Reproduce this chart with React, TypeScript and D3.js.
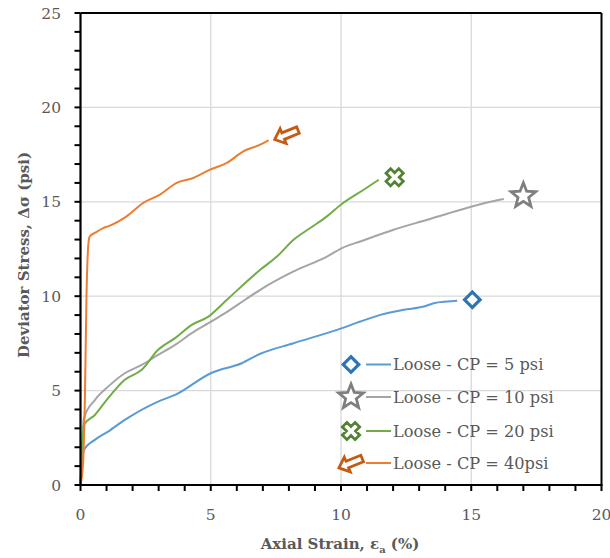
import React from "react";
import * as d3 from "d3";

// Triaxial test results: deviator stress vs axial strain, loose specimens
const strainCP5 = [0, 0.13, 0.55, 1.06, 1.7, 2.98, 3.63, 5, 6.19, 6.9, 8.18, 10.04, 10.74, 11.51, 12.41, 13.18, 13.56, 14.08, 14.46];
const stressCP5 = [0, 1.86, 2.39, 2.83, 3.45, 4.42, 4.77, 5.92, 6.45, 6.95, 7.51, 8.31, 8.66, 9.01, 9.28, 9.45, 9.63, 9.72, 9.76];

const strainCP10 = [0, 0.13, 0.55, 1.06, 1.7, 2.35, 2.98, 3.63, 4.27, 4.91, 5.55, 6.32, 6.9, 8.18, 9.46, 10.04, 10.74, 12.02, 13.31, 14.59, 15.74, 16.25];
const stressCP10 = [0, 3.53, 4.5, 5.21, 5.92, 6.36, 6.89, 7.42, 8.04, 8.57, 9.1, 9.81, 10.34, 11.31, 12.1, 12.55, 12.9, 13.52, 14.05, 14.58, 15.0, 15.15];

const strainCP20 = [0, 0.13, 0.55, 1.06, 1.7, 2.35, 2.98, 3.63, 4.27, 4.91, 5.62, 6.9, 7.54, 8.18, 8.82, 9.46, 10.04, 10.87, 11.45];
const stressCP20 = [0, 3.18, 3.71, 4.6, 5.57, 6.1, 7.16, 7.78, 8.48, 8.92, 9.81, 11.4, 12.1, 12.99, 13.61, 14.23, 14.9, 15.64, 16.17];

const strainCP40 = [0, 0.1, 0.17, 0.23, 0.32, 0.36, 0.55, 0.87, 1.06, 1.77, 2.41, 3.05, 3.69, 4.33, 4.97, 5.62, 6.25, 6.9, 7.22];
const stressCP40 = [0, 1.2, 4.7, 10, 12.99, 13.17, 13.35, 13.61, 13.7, 14.23, 14.94, 15.38, 16.0, 16.26, 16.7, 17.06, 17.67, 18.03, 18.26];

// Failure markers placed just past the end of each curve
const markerStrain = [15.04, 17.0, 12.06, 7.92];
const markerStress = [9.81, 15.32, 16.3, 18.56];

const seriesLabels = ["Loose - CP = 5 psi", "Loose - CP = 10 psi", "Loose - CP = 20 psi", "Loose - CP = 40psi"];
const lineColors = ["#5B9BD5", "#A5A5A5", "#70AD47", "#ED7D31"];
const markerColors = ["#2E75B6", "#7F7F7F", "#548235", "#C55A11"];

const xTicks = [0, 5, 10, 15, 20];
const yTicks = [0, 5, 10, 15, 20, 25];

const W = 610;
const H = 558;
const left = 80.5;
const right = 601.5;
const top = 13;
const bottom = 485;
const textColor = "#595959";
const font = "'DejaVu Serif', serif";

const x = d3.scaleLinear().domain([0, 20]).range([left, right]);
const y = d3.scaleLinear().domain([0, 25]).range([bottom, top]);

const strains = [strainCP5, strainCP10, strainCP20, strainCP40];
const stresses = [stressCP5, stressCP10, stressCP20, stressCP40];

const line = d3
  .line<[number, number]>()
  .x((d) => x(d[0]))
  .y((d) => y(d[1]))
  .curve(d3.curveMonotoneX);

function starPath(outer: number, inner: number) {
  const pts: [number, number][] = [];
  for (let i = 0; i < 10; i++) {
    const r = i % 2 === 0 ? outer : inner;
    const a = -Math.PI / 2 + (i * Math.PI) / 5;
    pts.push([r * Math.cos(a), r * Math.sin(a)]);
  }
  return "M" + pts.map((p) => p.join(",")).join("L") + "Z";
}

function crossPath(w: number, L: number) {
  const pts = [
    [w, -L], [w, -w], [L, -w], [L, w], [w, w], [w, L],
    [-w, L], [-w, w], [-L, w], [-L, -w], [-w, -w], [-w, -L],
  ];
  return "M" + pts.map((p) => p.join(",")).join("L") + "Z";
}

const arrowPath = "M-13,0L-4,-8L-4,-3.5L12,-3.5L12,3.5L-4,3.5L-4,8Z";

function Marker({ kind, cx, cy }: { kind: number; cx: number; cy: number }) {
  const color = markerColors[kind];
  if (kind === 0) {
    return (
      <rect
        x={-5.5}
        y={-5.5}
        width={11}
        height={11}
        transform={`translate(${cx},${cy}) rotate(45)`}
        fill="white"
        stroke={color}
        strokeWidth={3.2}
      />
    );
  }
  if (kind === 1) {
    return (
      <path
        d={starPath(13, 5.6)}
        transform={`translate(${cx},${cy})`}
        fill="white"
        stroke={color}
        strokeWidth={2.8}
        strokeLinejoin="miter"
      />
    );
  }
  if (kind === 2) {
    return (
      <path
        d={crossPath(3.2, 9)}
        transform={`translate(${cx},${cy}) rotate(45)`}
        fill="white"
        stroke={color}
        strokeWidth={2.8}
      />
    );
  }
  return (
    <path
      d={arrowPath}
      transform={`translate(${cx},${cy}) rotate(-22)`}
      fill="white"
      stroke={color}
      strokeWidth={2.8}
    />
  );
}

export default function App() {
  const minorX = d3.range(0, 21, 1);
  const minorY = d3.range(0, 26, 1);
  const legendRows = [364.5, 397, 431, 463];

  return (
    <svg
      width={W}
      height={H}
      style={{ position: "absolute", left: 0, top: 0, background: "white" }}
      fontFamily={font}
    >
      {/* gridlines */}
      {xTicks.filter((t) => t > 0 && t < 20).map((t) => (
        <line key={"gx" + t} x1={x(t)} x2={x(t)} y1={top} y2={bottom} stroke="#D9D9D9" strokeWidth={1.3} />
      ))}
      {yTicks.filter((t) => t > 0 && t < 25).map((t) => (
        <line key={"gy" + t} x1={left} x2={right} y1={y(t)} y2={y(t)} stroke="#D9D9D9" strokeWidth={1.3} />
      ))}

      {/* curves */}
      {strains.map((s, i) => (
        <path
          key={"c" + i}
          d={line(s.map((v, j) => [v, stresses[i][j]] as [number, number])) || ""}
          fill="none"
          stroke={lineColors[i]}
          strokeWidth={2}
          strokeLinejoin="round"
        />
      ))}

      {/* failure markers */}
      {markerStrain.map((v, i) => (
        <Marker key={"m" + i} kind={i} cx={x(v)} cy={y(markerStress[i])} />
      ))}

      {/* frame */}
      <line x1={left} x2={right} y1={top} y2={top} stroke="black" strokeWidth={2} />
      <line x1={right} x2={right} y1={top} y2={bottom} stroke="black" strokeWidth={2} />
      <line x1={left} x2={left} y1={top} y2={bottom + 1} stroke="black" strokeWidth={2.2} />
      <line x1={left - 1} x2={right + 1} y1={bottom} y2={bottom} stroke="black" strokeWidth={2.2} />

      {/* minor ticks */}
      {minorX.map((t) => (
        <line key={"tx" + t} x1={x(t)} x2={x(t)} y1={bottom} y2={bottom + 6} stroke="black" strokeWidth={2} />
      ))}
      {minorY.map((t) => (
        <line key={"ty" + t} x1={left - 6} x2={left} y1={y(t)} y2={y(t)} stroke="black" strokeWidth={2} />
      ))}

      {/* tick labels */}
      {xTicks.map((t) => (
        <text key={"lx" + t} x={x(t)} y={520} textAnchor="middle" fontSize={15.5} fill={textColor}>
          {t}
        </text>
      ))}
      {yTicks.map((t) => (
        <text key={"ly" + t} x={61} y={y(t) + 5.5} textAnchor="end" fontSize={15.5} fill={textColor}>
          {t}
        </text>
      ))}

      {/* axis titles */}
      <text x={340} y={549} textAnchor="middle" fontSize={15} fontWeight="bold" fill={textColor}>
        Axial Strain, ε<tspan fontSize={10} dy={4}>a</tspan>
        <tspan dy={-4}> (%)</tspan>
      </text>
      <text
        transform={`translate(29,${(top + bottom) / 2 + 6}) rotate(-90)`}
        textAnchor="middle"
        fontSize={15}
        fontWeight="bold"
        fill={textColor}
      >
        Deviator Stress, Δσ (psi)
      </text>

      {/* legend */}
      {seriesLabels.map((lab, i) => (
        <g key={"lg" + i}>
          <Marker kind={i} cx={351} cy={legendRows[i]} />
          <line x1={366} x2={391} y1={legendRows[i]} y2={legendRows[i]} stroke={lineColors[i]} strokeWidth={2} />
          <text x={393} y={legendRows[i] + 5.5} fontSize={16.2} fill={textColor}>
            {lab}
          </text>
        </g>
      ))}
    </svg>
  );
}
